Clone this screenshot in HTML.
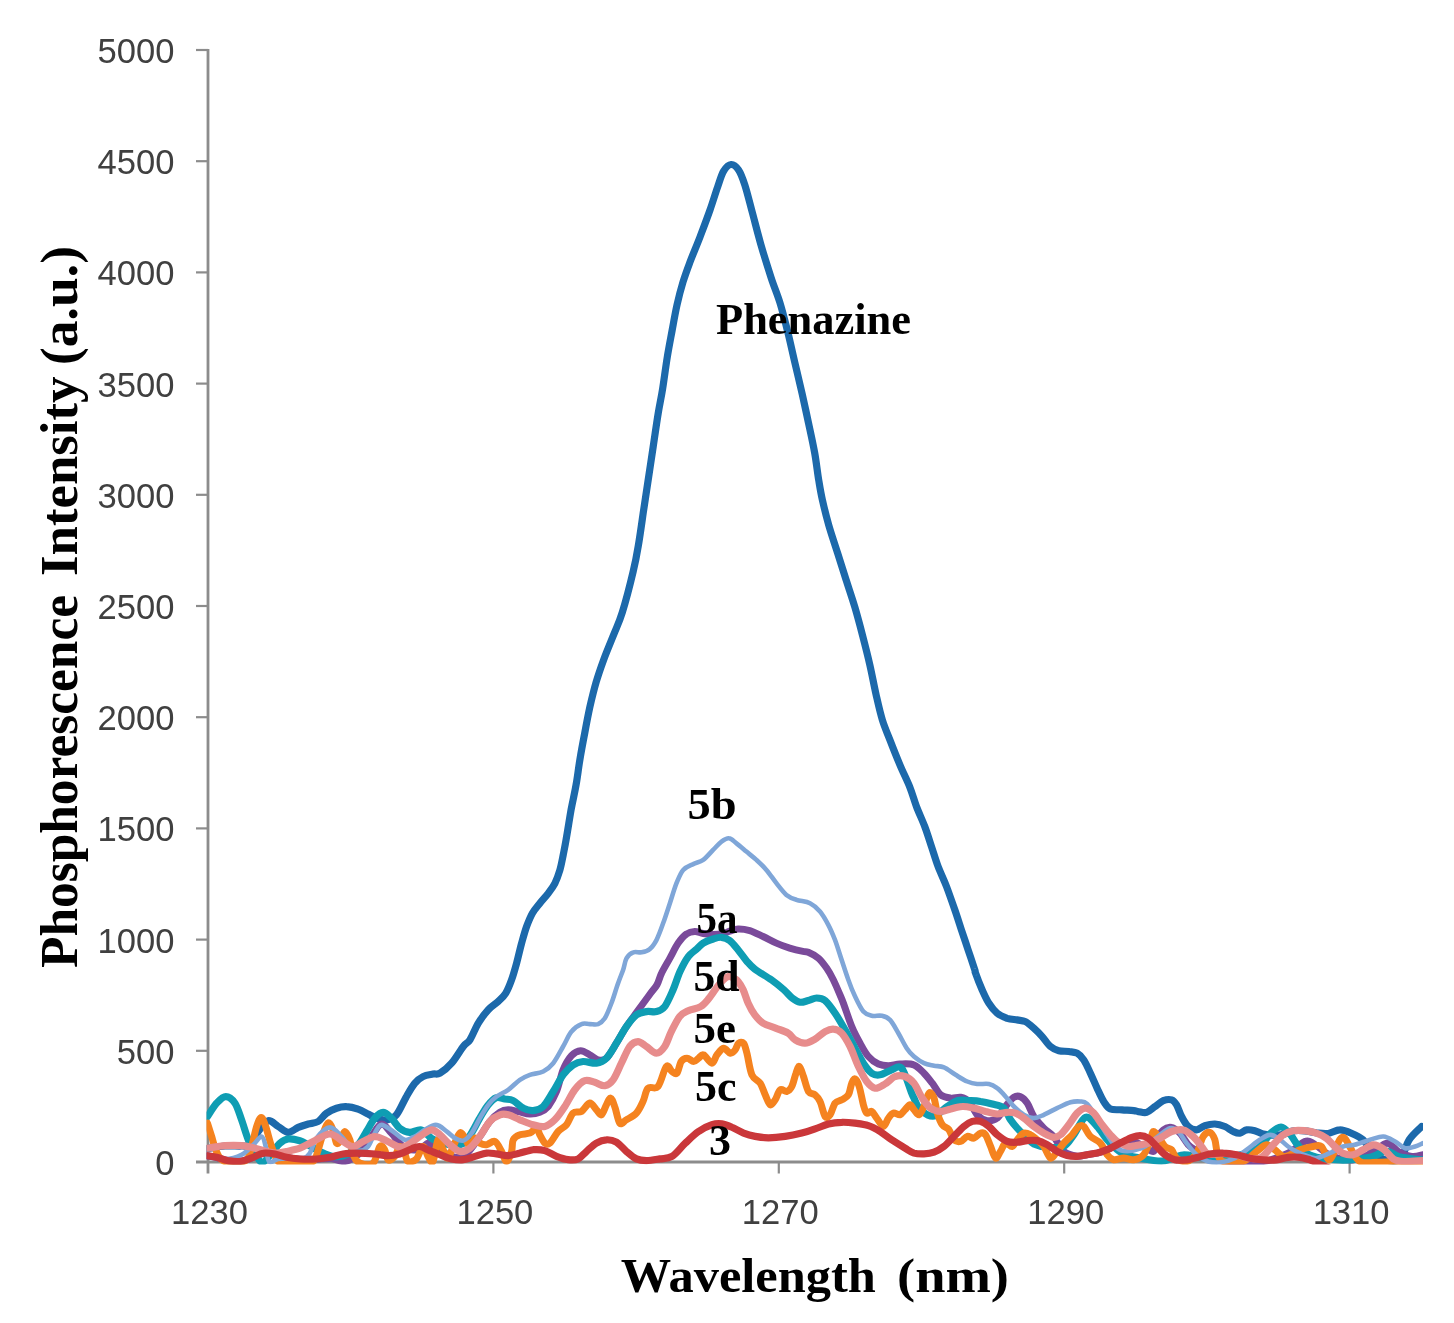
<!DOCTYPE html>
<html lang="en"><head><meta charset="utf-8"><title>Phosphorescence spectra</title>
<style>html,body{margin:0;padding:0;background:#fff}body{width:1454px;height:1323px;overflow:hidden}svg{display:block;filter:blur(0.6px)}.tk{font-family:"Liberation Sans",Arial,sans-serif;font-size:34.6px;fill:#404040}.bs{font-family:"Liberation Serif","Times New Roman",serif;font-weight:bold;fill:#000}</style></head><body>
<svg width="1454" height="1323" viewBox="0 0 1454 1323">
<rect width="1454" height="1323" fill="#fff"/>
<defs><clipPath id="pa"><rect x="206.5" y="0" width="1216.5" height="1164.5"/></clipPath></defs>
<g stroke="#8c8c8c" stroke-width="2.8" fill="none">
<line x1="208.0" y1="49.0" x2="208.0" y2="1173.5"/>
<line x1="196.0" y1="1162.0" x2="1423.0" y2="1162.0"/>
<line stroke-width="2.2" x1="196.0" y1="1050.8" x2="208.0" y2="1050.8"/>
<line stroke-width="2.2" x1="196.0" y1="939.6" x2="208.0" y2="939.6"/>
<line stroke-width="2.2" x1="196.0" y1="828.4" x2="208.0" y2="828.4"/>
<line stroke-width="2.2" x1="196.0" y1="717.2" x2="208.0" y2="717.2"/>
<line stroke-width="2.2" x1="196.0" y1="606.0" x2="208.0" y2="606.0"/>
<line stroke-width="2.2" x1="196.0" y1="494.8" x2="208.0" y2="494.8"/>
<line stroke-width="2.2" x1="196.0" y1="383.6" x2="208.0" y2="383.6"/>
<line stroke-width="2.2" x1="196.0" y1="272.4" x2="208.0" y2="272.4"/>
<line stroke-width="2.2" x1="196.0" y1="161.2" x2="208.0" y2="161.2"/>
<line stroke-width="2.2" x1="196.0" y1="50.0" x2="208.0" y2="50.0"/>
<line stroke-width="2.2" x1="493.4" y1="1162.0" x2="493.4" y2="1173.5"/>
<line stroke-width="2.2" x1="778.8" y1="1162.0" x2="778.8" y2="1173.5"/>
<line stroke-width="2.2" x1="1064.2" y1="1162.0" x2="1064.2" y2="1173.5"/>
<line stroke-width="2.2" x1="1349.6" y1="1162.0" x2="1349.6" y2="1173.5"/>
</g>
<g class="tk">
<text x="174.5" y="1175.0" text-anchor="end">0</text>
<text x="174.5" y="1063.8" text-anchor="end">500</text>
<text x="174.5" y="952.6" text-anchor="end">1000</text>
<text x="174.5" y="841.4" text-anchor="end">1500</text>
<text x="174.5" y="730.2" text-anchor="end">2000</text>
<text x="174.5" y="619.0" text-anchor="end">2500</text>
<text x="174.5" y="507.8" text-anchor="end">3000</text>
<text x="174.5" y="396.6" text-anchor="end">3500</text>
<text x="174.5" y="285.4" text-anchor="end">4000</text>
<text x="174.5" y="174.2" text-anchor="end">4500</text>
<text x="174.5" y="63.0" text-anchor="end">5000</text>
<text x="209.5" y="1223.5" text-anchor="middle">1230</text>
<text x="494.9" y="1223.5" text-anchor="middle">1250</text>
<text x="780.3" y="1223.5" text-anchor="middle">1270</text>
<text x="1065.7" y="1223.5" text-anchor="middle">1290</text>
<text x="1351.1" y="1223.5" text-anchor="middle">1310</text>
</g>
<g clip-path="url(#pa)" fill="none" stroke-linecap="round" stroke-linejoin="round">
<path stroke="#1c69ab" stroke-width="7.2" d="M207.5,1148.5C210.4,1148.1 219.3,1146.4 225.0,1146.0C230.7,1145.6 237.2,1146.2 241.6,1146.0C246.0,1145.8 248.8,1147.3 251.6,1144.8C254.4,1142.4 255.5,1135.5 258.3,1131.5C261.0,1127.5 264.9,1121.5 268.2,1120.7C271.6,1119.9 274.9,1124.6 278.2,1126.5C281.6,1128.5 284.9,1132.2 288.2,1132.4C291.5,1132.5 294.9,1128.8 298.2,1127.4C301.5,1126.0 304.9,1125.0 308.2,1124.0C311.5,1123.1 315.1,1123.3 318.2,1121.5C321.2,1119.7 323.4,1115.4 326.5,1113.2C329.5,1111.0 333.1,1109.3 336.5,1108.2C339.8,1107.1 342.9,1106.4 346.5,1106.6C350.1,1106.7 354.5,1107.8 358.1,1109.1C361.7,1110.3 365.1,1112.5 368.1,1114.1C371.2,1115.6 373.4,1117.2 376.4,1118.2C379.5,1119.2 383.1,1120.4 386.4,1119.9C389.7,1119.3 393.1,1118.8 396.4,1114.9C399.7,1111.0 403.3,1101.8 406.4,1096.6C409.4,1091.3 411.9,1086.6 414.7,1083.3C417.5,1079.9 420.0,1078.1 423.0,1076.6C426.1,1075.1 430.2,1074.7 433.0,1074.1C435.8,1073.5 436.9,1075.0 440.0,1073.2C443.1,1071.4 447.8,1067.6 451.6,1063.2C455.5,1058.8 460.2,1050.5 463.3,1046.5C466.3,1042.6 467.5,1043.6 470.0,1039.7C472.5,1035.8 475.3,1028.1 478.3,1023.1C481.4,1018.1 485.0,1013.4 488.3,1009.8C491.6,1006.2 495.4,1004.2 498.3,1001.4C501.2,998.7 503.6,996.7 505.8,993.1C508.0,989.5 509.8,984.8 511.6,979.8C513.4,974.8 514.9,969.3 516.6,963.2C518.3,957.1 519.9,949.3 521.6,943.2C523.3,937.1 524.8,931.5 526.6,926.5C528.4,921.6 530.2,917.1 532.4,913.2C534.6,909.3 537.3,906.6 539.9,903.2C542.5,899.9 545.7,896.6 548.2,893.3C550.7,889.9 552.9,887.2 554.9,883.3C556.8,879.4 558.5,874.7 559.9,870.0C561.3,865.2 562.2,860.0 563.2,855.0C564.2,849.9 564.8,847.2 566.1,839.6C567.5,832.1 569.5,818.8 571.1,809.7C572.8,800.5 574.7,793.0 576.1,784.7C577.6,776.4 578.4,768.5 579.9,759.7C581.3,751.0 583.2,741.0 584.9,732.3C586.5,723.5 588.0,715.6 589.8,707.3C591.7,699.0 593.8,690.2 596.1,682.3C598.4,674.4 600.7,667.8 603.6,659.9C606.5,652.0 610.4,642.8 613.6,634.9C616.7,627.0 619.0,623.0 622.3,612.4C625.6,601.8 630.6,582.4 633.2,571.4C635.9,560.4 636.6,556.1 638.2,546.4C639.9,536.7 641.6,524.2 643.2,513.1C644.9,502.1 646.5,491.0 648.2,479.9C649.9,468.8 651.5,457.7 653.2,446.6C654.9,435.5 656.6,422.9 658.2,413.3C659.8,403.7 661.1,398.4 662.6,389.0C664.1,379.6 665.7,366.8 667.3,357.0C668.9,347.2 670.6,338.7 672.2,330.0C673.8,321.3 675.2,313.0 677.0,305.0C678.8,297.0 680.8,289.2 683.0,282.0C685.2,274.8 687.2,269.5 690.0,262.0C692.8,254.5 696.7,245.7 700.0,237.0C703.3,228.3 707.1,218.3 710.0,210.0C712.9,201.7 715.2,193.9 717.5,187.4C719.8,180.9 721.3,175.0 723.6,171.2C725.9,167.4 728.6,164.7 731.1,164.5C733.6,164.3 736.3,166.6 738.6,170.0C740.9,173.4 742.5,177.8 744.8,184.9C747.1,192.0 749.6,202.4 752.3,212.4C755.0,222.4 757.9,234.1 761.0,244.9C764.1,255.7 767.9,267.7 771.0,277.3C774.1,286.9 777.1,293.6 779.8,302.3C782.5,311.0 784.7,319.8 787.2,329.7C789.7,339.6 792.2,351.3 794.7,362.0C797.2,372.7 799.9,383.8 802.2,394.0C804.5,404.2 806.4,413.2 808.5,423.0C810.6,432.8 813.0,443.5 814.7,453.0C816.4,462.5 817.4,472.2 818.7,480.0C820.0,487.8 820.7,492.5 822.4,500.0C824.1,507.5 826.2,516.2 828.7,524.9C831.2,533.7 834.5,543.2 837.4,552.4C840.3,561.6 843.2,570.7 846.1,579.9C849.0,589.0 852.2,598.2 854.9,607.3C857.6,616.5 859.9,625.2 862.4,634.8C864.9,644.4 867.6,654.8 869.8,664.7C872.1,674.7 874.0,685.6 876.1,694.7C878.2,703.9 880.0,712.2 882.3,719.7C884.6,727.2 886.9,732.2 889.8,739.6C892.7,747.1 896.5,756.7 899.8,764.6C903.1,772.5 907.0,780.1 909.8,787.1C912.6,794.1 914.0,800.1 916.5,806.6C919.0,813.2 922.3,820.0 924.8,826.6C927.3,833.3 929.3,839.9 931.5,846.6C933.7,853.2 935.6,859.9 938.1,866.6C940.6,873.2 943.7,879.3 946.5,886.5C949.2,893.7 952.3,902.6 954.8,909.8C957.3,917.0 959.2,923.1 961.4,929.8C963.7,936.5 965.9,943.1 968.1,949.8C970.3,956.4 973.5,965.8 974.8,969.8C976.0,973.7 974.3,969.9 975.6,973.3C976.8,976.7 980.0,985.0 982.2,990.0C984.5,995.0 986.4,999.4 988.9,1003.3C991.4,1007.2 994.2,1010.8 997.2,1013.3C1000.3,1015.8 1003.9,1017.1 1007.2,1018.3C1010.5,1019.4 1014.1,1019.4 1017.2,1019.9C1020.2,1020.5 1022.7,1020.2 1025.5,1021.6C1028.3,1023.0 1031.1,1025.7 1033.8,1028.2C1036.6,1030.7 1039.4,1033.5 1042.2,1036.6C1044.9,1039.6 1047.7,1044.2 1050.5,1046.5C1053.3,1048.9 1055.7,1049.9 1058.8,1050.7C1061.9,1051.5 1065.7,1051.1 1068.8,1051.5C1071.8,1052.0 1074.6,1051.8 1077.1,1053.2C1079.6,1054.6 1081.5,1056.5 1083.8,1059.9C1086.0,1063.2 1088.2,1068.5 1090.4,1073.2C1092.6,1077.9 1094.9,1083.4 1097.1,1088.2C1099.3,1092.9 1101.5,1098.0 1103.7,1101.5C1106.0,1104.9 1107.3,1107.6 1110.4,1109.0C1113.4,1110.3 1118.2,1109.5 1122.0,1109.8C1125.9,1110.1 1131.0,1110.3 1133.7,1110.6C1136.4,1110.9 1136.2,1111.3 1138.3,1111.6C1140.5,1111.8 1143.9,1113.2 1146.6,1112.4C1149.4,1111.6 1152.2,1108.5 1155.0,1106.6C1157.7,1104.6 1160.5,1101.8 1163.3,1100.7C1166.1,1099.6 1169.4,1099.2 1171.6,1099.9C1173.8,1100.6 1174.9,1102.1 1176.6,1104.9C1178.3,1107.7 1179.7,1112.9 1181.6,1116.5C1183.5,1120.2 1185.8,1124.3 1188.3,1126.5C1190.7,1128.8 1193.8,1130.0 1196.6,1129.9C1199.3,1129.7 1201.8,1126.7 1204.9,1125.7C1207.9,1124.7 1211.6,1123.9 1214.9,1124.0C1218.2,1124.2 1221.8,1125.3 1224.9,1126.5C1227.9,1127.8 1230.7,1130.4 1233.2,1131.5C1235.7,1132.6 1237.6,1133.5 1239.8,1133.2C1242.1,1132.9 1244.0,1130.3 1246.5,1129.9C1249.0,1129.4 1252.1,1130.0 1254.8,1130.7C1257.6,1131.4 1260.1,1133.3 1263.1,1134.0C1266.2,1134.8 1269.7,1135.2 1273.1,1135.2C1276.6,1135.2 1280.6,1134.9 1284.0,1134.2C1287.3,1133.5 1289.6,1131.4 1293.1,1130.9C1296.6,1130.3 1300.9,1130.5 1304.8,1130.9C1308.6,1131.2 1312.5,1132.4 1316.4,1132.9C1320.3,1133.3 1324.2,1134.0 1328.1,1133.5C1331.9,1133.0 1335.8,1129.9 1339.7,1129.9C1343.6,1129.8 1347.5,1131.5 1351.4,1133.2C1355.2,1134.9 1359.6,1136.8 1363.0,1139.8C1366.4,1142.9 1368.1,1148.2 1371.8,1151.5C1375.5,1154.8 1380.4,1158.6 1385.1,1159.8C1389.8,1161.1 1396.1,1162.3 1400.1,1159.0C1404.1,1155.7 1405.6,1145.3 1409.2,1139.8C1412.8,1134.4 1419.6,1128.8 1421.7,1126.5"/>
<path stroke="#7a4a9a" stroke-width="7.0" d="M207.5,1156.0C209.0,1156.2 213.2,1156.7 216.6,1157.5C220.1,1158.3 224.4,1160.2 228.3,1160.8C232.2,1161.5 235.8,1162.0 239.9,1161.5C244.1,1160.9 249.4,1158.8 253.3,1157.5C257.1,1156.2 259.6,1154.0 263.2,1153.5C266.9,1153.0 271.0,1153.7 274.9,1154.3C278.8,1155.0 282.4,1156.7 286.5,1157.5C290.7,1158.3 294.9,1158.9 299.9,1159.2C304.9,1159.4 311.2,1159.3 316.5,1159.2C321.8,1159.0 326.8,1158.1 331.5,1158.5C336.2,1158.9 340.1,1162.4 344.8,1161.5C349.5,1160.6 355.3,1157.3 359.8,1153.2C364.2,1149.0 367.8,1141.4 371.4,1136.5C375.0,1131.7 378.1,1124.6 381.4,1124.0C384.7,1123.5 387.8,1129.4 391.4,1133.2C395.0,1136.9 398.9,1143.7 403.1,1146.5C407.2,1149.3 412.2,1150.4 416.4,1149.8C420.5,1149.3 425.7,1144.3 428.0,1143.2C430.3,1142.1 428.0,1142.0 430.0,1143.1C432.0,1144.2 436.4,1147.5 440.0,1149.7C443.6,1152.0 447.8,1155.3 451.6,1156.4C455.5,1157.5 460.0,1157.8 463.3,1156.4C466.6,1155.0 468.8,1151.4 471.6,1148.1C474.4,1144.7 476.9,1140.9 479.9,1136.4C483.0,1132.0 486.6,1125.5 489.9,1121.4C493.2,1117.4 496.9,1114.2 499.9,1112.3C503.0,1110.3 505.2,1109.9 508.2,1109.8C511.3,1109.7 514.6,1110.8 518.2,1111.5C521.8,1112.2 526.3,1113.8 529.9,1114.0C533.5,1114.1 536.8,1113.5 539.8,1112.3C542.9,1111.0 545.4,1109.9 548.2,1106.5C550.9,1103.0 554.0,1097.6 556.5,1091.5C559.0,1085.4 560.7,1075.8 563.1,1069.8C565.6,1063.9 568.6,1058.9 571.5,1055.7C574.4,1052.5 577.6,1050.8 580.6,1050.7C583.7,1050.6 586.9,1053.3 589.8,1054.9C592.7,1056.4 595.3,1059.3 598.1,1059.9C600.9,1060.4 603.4,1061.0 606.4,1058.2C609.5,1055.4 613.1,1048.5 616.4,1043.2C619.7,1037.9 622.9,1031.8 626.4,1026.6C629.9,1021.3 633.4,1016.9 637.2,1011.6C641.1,1006.3 646.2,999.2 649.5,994.7C652.8,990.2 655.0,988.3 657.0,984.7C659.0,981.1 659.4,977.5 661.6,973.1C663.7,968.6 667.1,963.1 669.9,958.1C672.7,953.1 675.4,947.1 678.2,943.1C681.0,939.1 683.7,935.9 686.5,934.0C689.3,932.0 692.1,931.6 694.8,931.5C697.6,931.4 700.1,933.0 703.2,933.5C706.2,934.0 709.8,934.5 713.1,934.5C716.5,934.5 720.4,934.0 723.1,933.5C725.9,932.9 727.3,931.9 729.8,931.1C732.3,930.4 734.8,929.1 738.1,929.0C741.4,928.9 745.6,929.4 749.8,930.6C753.9,931.9 758.6,934.4 763.1,936.5C767.5,938.5 772.0,941.2 776.4,943.1C780.8,945.1 785.3,946.7 789.7,948.1C794.1,949.5 799.9,950.8 803.0,951.4C806.1,952.1 805.8,951.2 808.3,952.3C810.9,953.4 815.3,955.5 818.3,958.1C821.4,960.7 824.1,964.5 826.6,968.1C829.1,971.7 831.1,975.3 833.3,979.7C835.5,984.2 838.3,990.8 839.9,994.7C841.6,998.6 841.5,998.0 843.4,1003.3C845.4,1008.6 849.0,1019.9 851.8,1026.6C854.5,1033.2 857.3,1038.2 860.1,1043.2C862.8,1048.2 865.3,1053.1 868.4,1056.5C871.4,1060.0 875.1,1062.5 878.4,1064.0C881.7,1065.5 884.8,1065.7 888.4,1065.7C892.0,1065.7 895.7,1064.2 900.0,1064.0C904.3,1063.9 910.0,1063.3 914.0,1064.9C918.0,1066.4 920.9,1070.1 924.0,1073.2C927.0,1076.2 929.5,1079.6 932.3,1083.2C935.1,1086.8 937.6,1092.3 940.6,1094.8C943.7,1097.3 947.3,1097.7 950.6,1098.1C953.9,1098.6 957.6,1096.8 960.6,1097.3C963.7,1097.9 966.2,1098.6 968.9,1101.5C971.7,1104.4 974.2,1111.6 977.2,1114.8C980.3,1118.0 983.9,1120.1 987.2,1120.6C990.6,1121.2 994.2,1120.5 997.2,1118.1C1000.3,1115.8 1002.8,1109.9 1005.5,1106.5C1008.3,1103.0 1011.4,1098.9 1013.9,1097.3C1016.4,1095.7 1018.3,1095.8 1020.5,1096.8C1022.7,1097.8 1025.0,1099.9 1027.2,1103.1C1029.4,1106.4 1031.1,1112.3 1033.8,1116.5C1036.6,1120.6 1040.5,1124.7 1043.8,1128.1C1047.1,1131.5 1050.5,1132.9 1053.8,1136.8C1057.1,1140.6 1059.9,1148.2 1063.8,1151.4C1067.7,1154.6 1073.2,1155.5 1077.1,1156.1C1081.0,1156.6 1083.8,1155.2 1087.1,1154.7C1090.4,1154.2 1093.8,1153.9 1097.1,1153.1C1100.4,1152.2 1103.7,1151.1 1107.1,1149.7C1110.4,1148.4 1113.2,1146.6 1117.1,1145.1C1120.9,1143.6 1125.9,1140.4 1130.4,1140.6C1134.8,1140.8 1139.8,1144.6 1143.7,1146.4C1147.6,1148.2 1151.5,1152.5 1153.7,1151.4C1155.8,1150.3 1155.0,1143.4 1156.6,1139.8C1158.2,1136.3 1160.8,1131.9 1163.3,1129.9C1165.8,1127.8 1168.8,1126.8 1171.6,1127.4C1174.4,1127.9 1177.2,1130.3 1179.9,1133.2C1182.7,1136.1 1185.8,1142.1 1188.3,1144.8C1190.7,1147.6 1192.1,1147.6 1194.9,1149.8C1197.7,1152.1 1199.1,1156.2 1204.9,1158.2C1210.7,1160.1 1220.2,1160.9 1229.9,1161.5C1239.6,1162.0 1253.4,1162.9 1263.1,1161.5C1272.9,1160.1 1281.2,1156.5 1288.1,1153.2C1295.1,1149.8 1300.6,1143.2 1304.8,1141.5C1308.9,1139.8 1309.5,1141.2 1313.1,1143.2C1316.7,1145.1 1322.2,1150.7 1326.4,1153.2C1330.6,1155.7 1333.5,1157.0 1338.0,1158.2C1342.6,1159.3 1347.8,1160.7 1353.5,1159.8C1359.1,1159.0 1366.2,1155.9 1371.8,1153.2C1377.3,1150.4 1382.3,1143.5 1386.8,1143.2C1391.2,1142.9 1394.2,1149.3 1398.4,1151.5C1402.6,1153.7 1407.6,1155.9 1411.7,1156.5C1415.8,1157.0 1421.2,1155.1 1423.0,1154.8"/>
<path stroke="#0e9db3" stroke-width="7.2" d="M207.5,1116.5C209.0,1114.3 213.6,1106.6 216.6,1103.2C219.7,1099.9 222.7,1096.6 225.8,1096.6C228.8,1096.6 232.3,1099.3 235.0,1103.2C237.6,1107.1 239.4,1113.8 241.6,1119.9C243.8,1126.0 246.0,1134.3 248.3,1139.8C250.5,1145.4 252.6,1149.4 254.9,1153.2C257.3,1156.9 259.6,1162.3 262.4,1162.3C265.2,1162.3 268.7,1156.4 271.6,1153.2C274.5,1150.0 277.1,1145.5 279.9,1143.2C282.7,1140.8 284.9,1139.4 288.2,1139.0C291.5,1138.6 296.5,1139.7 299.9,1140.7C303.2,1141.7 304.9,1143.0 308.2,1144.8C311.5,1146.6 315.7,1149.6 319.8,1151.5C324.0,1153.4 328.7,1155.9 333.1,1156.5C337.6,1157.0 342.3,1156.8 346.5,1154.8C350.6,1152.9 354.8,1148.7 358.1,1144.8C361.4,1141.0 363.7,1136.0 366.4,1131.5C369.2,1127.1 372.0,1121.4 374.8,1118.2C377.5,1115.0 380.3,1112.4 383.1,1112.4C385.9,1112.4 388.6,1115.6 391.4,1118.2C394.2,1120.8 396.7,1125.8 399.7,1128.2C402.8,1130.6 406.1,1132.1 409.7,1132.4C413.3,1132.6 417.8,1128.9 421.4,1129.9C425.0,1130.8 428.5,1136.3 431.3,1138.2C434.2,1140.1 435.2,1140.3 438.3,1141.4C441.4,1142.5 446.0,1144.3 450.0,1144.7C454.0,1145.2 459.0,1145.7 462.5,1143.9C466.0,1142.1 468.1,1138.1 470.9,1133.9C473.7,1129.8 476.5,1123.7 479.3,1118.9C482.0,1114.2 484.8,1109.2 487.6,1105.6C490.4,1102.1 493.0,1098.9 495.9,1097.8C498.8,1096.7 502.0,1098.5 504.9,1099.0C507.8,1099.4 510.2,1099.1 513.2,1100.6C516.3,1102.2 519.9,1106.5 523.2,1108.1C526.5,1109.8 529.9,1110.9 533.2,1110.6C536.5,1110.3 539.8,1109.7 543.2,1106.5C546.5,1103.3 549.8,1096.8 553.2,1091.5C556.5,1086.2 559.8,1079.3 563.1,1074.8C566.5,1070.4 569.8,1067.1 573.1,1064.9C576.5,1062.6 579.2,1061.8 583.1,1061.5C587.0,1061.2 592.6,1063.7 596.4,1063.2C600.3,1062.6 603.1,1061.5 606.4,1058.2C609.8,1054.9 613.1,1048.5 616.4,1043.2C619.7,1037.9 623.1,1031.3 626.4,1026.6C629.7,1021.9 633.1,1017.4 636.4,1014.9C639.7,1012.4 643.0,1012.2 646.4,1011.6C649.7,1011.0 653.3,1012.4 656.4,1011.6C659.4,1010.8 661.9,1010.2 664.7,1006.6C667.5,1003.0 670.5,995.6 673.1,989.8C675.6,984.0 677.5,977.1 680.0,971.6C682.5,966.1 685.5,960.4 688.3,956.6C691.1,952.9 694.1,951.4 696.6,949.1C699.1,946.9 700.4,944.8 703.2,943.1C706.0,941.4 710.2,940.0 713.2,939.0C716.2,938.0 718.7,937.0 721.5,937.3C724.3,937.6 727.0,938.5 729.8,940.6C732.6,942.7 735.4,946.6 738.2,950.0C741.0,953.4 743.7,957.6 746.5,960.8C749.3,964.0 750.6,965.9 754.8,969.1C759.0,972.3 766.6,976.4 771.5,979.9C776.4,983.4 780.5,986.8 784.0,989.9C787.5,993.0 789.6,996.1 792.3,998.2C795.0,1000.3 797.3,1001.8 800.0,1002.2C802.7,1002.6 805.5,1001.2 808.3,1000.5C811.1,999.8 813.9,998.0 816.6,998.0C819.4,998.0 821.9,998.0 825.0,1000.5C828.0,1003.1 831.8,1008.4 835.1,1013.3C838.5,1018.2 841.8,1024.1 845.1,1029.9C848.4,1035.7 852.0,1042.7 855.1,1048.2C858.1,1053.8 860.6,1059.0 863.4,1063.2C866.2,1067.4 869.0,1071.2 871.7,1073.2C874.5,1075.1 876.7,1075.4 880.0,1074.8C883.4,1074.3 888.1,1071.0 891.7,1069.8C895.3,1068.7 898.4,1064.3 901.7,1068.2C905.0,1072.1 909.6,1088.2 911.7,1093.1C913.7,1098.1 912.8,1095.6 914.0,1098.1C915.2,1100.6 916.8,1105.4 919.0,1108.1C921.2,1110.9 924.5,1113.5 927.3,1114.8C930.1,1116.0 932.3,1117.0 935.6,1115.6C939.0,1114.2 943.7,1109.0 947.3,1106.5C950.9,1104.0 953.7,1101.6 957.3,1100.6C960.9,1099.7 965.0,1100.5 968.9,1100.6C972.8,1100.8 976.7,1100.9 980.6,1101.5C984.5,1102.0 988.3,1102.9 992.2,1104.0C996.1,1105.1 1000.8,1105.5 1003.9,1108.1C1006.9,1110.8 1008.3,1116.5 1010.5,1119.8C1012.8,1123.1 1014.4,1125.1 1017.2,1128.1C1020.0,1131.2 1024.4,1135.5 1027.2,1138.1C1030.0,1140.7 1030.5,1142.4 1033.8,1143.9C1037.2,1145.4 1042.2,1146.8 1047.1,1147.2C1052.1,1147.7 1059.4,1148.5 1063.8,1146.4C1068.2,1144.3 1070.2,1139.6 1073.8,1134.8C1077.4,1129.9 1081.5,1118.7 1085.4,1117.3C1089.3,1115.9 1093.2,1122.4 1097.1,1126.4C1101.0,1130.5 1104.6,1137.0 1108.7,1141.4C1112.9,1145.9 1116.8,1150.3 1122.0,1153.1C1127.3,1155.8 1133.2,1156.7 1140.0,1158.0C1146.8,1159.3 1155.8,1161.5 1163.0,1161.0C1170.2,1160.5 1176.0,1155.5 1183.0,1155.0C1190.0,1154.5 1196.3,1157.8 1205.0,1158.0C1213.7,1158.2 1226.2,1157.7 1235.0,1156.0C1243.8,1154.3 1252.0,1151.8 1258.0,1148.0C1264.0,1144.2 1267.2,1136.5 1271.0,1133.0C1274.8,1129.5 1277.8,1126.8 1281.0,1127.0C1284.2,1127.2 1287.3,1131.2 1290.0,1134.0C1292.7,1136.8 1293.7,1140.5 1297.0,1144.0C1300.3,1147.5 1302.8,1152.3 1310.0,1155.0C1317.2,1157.7 1329.8,1159.7 1340.0,1160.0C1350.2,1160.3 1363.3,1158.5 1371.0,1157.0C1378.7,1155.5 1381.2,1151.0 1386.0,1151.0C1390.8,1151.0 1393.8,1155.5 1400.0,1157.0C1406.2,1158.5 1419.2,1159.5 1423.0,1160.0"/>
<path stroke="#f5831f" stroke-width="7.0" d="M207.5,1123.2C208.2,1125.4 210.3,1132.1 211.7,1136.5C213.0,1141.0 214.1,1146.0 215.8,1149.8C217.5,1153.7 218.7,1157.6 221.6,1159.8C224.5,1162.0 229.1,1163.1 233.3,1163.1C237.4,1163.1 243.6,1162.6 246.6,1159.8C249.7,1157.0 249.9,1152.1 251.6,1146.5C253.3,1141.0 255.0,1131.4 256.6,1126.5C258.2,1121.7 259.7,1117.4 261.2,1117.4C262.8,1117.4 264.0,1121.7 265.7,1126.5C267.5,1131.4 269.5,1140.7 271.6,1146.5C273.6,1152.3 275.7,1158.7 278.2,1161.5C280.7,1164.3 282.9,1162.9 286.5,1163.1C290.2,1163.4 295.4,1163.4 299.9,1163.1C304.3,1162.9 310.1,1163.7 313.2,1161.5C316.2,1159.3 316.5,1154.6 318.2,1149.8C319.8,1145.1 321.5,1137.7 323.2,1133.2C324.8,1128.7 326.5,1123.4 328.2,1122.9C329.8,1122.3 331.8,1126.5 333.1,1129.9C334.5,1133.2 335.2,1141.5 336.5,1143.2C337.7,1144.8 339.3,1141.8 340.6,1139.8C342.0,1137.9 343.3,1131.5 344.8,1131.5C346.3,1131.5 348.3,1135.7 349.8,1139.8C351.3,1144.0 352.3,1152.6 354.0,1156.5C355.6,1160.4 356.6,1162.0 359.8,1163.1C363.0,1164.3 369.8,1165.9 373.1,1163.1C376.4,1160.4 377.8,1148.7 379.8,1146.5C381.7,1144.3 383.4,1147.6 384.7,1149.8C386.1,1152.1 386.4,1158.7 388.1,1159.8C389.7,1160.9 392.8,1158.7 394.7,1156.5C396.7,1154.3 398.1,1147.1 399.7,1146.5C401.4,1146.0 403.3,1150.7 404.7,1153.2C406.1,1155.7 406.1,1160.5 408.0,1161.5C410.0,1162.5 413.9,1161.5 416.4,1159.0C418.9,1156.5 421.1,1146.9 423.0,1146.5C425.0,1146.1 426.4,1154.0 428.0,1156.5C429.7,1159.0 431.3,1164.3 433.0,1161.5C434.7,1158.7 436.4,1142.1 438.0,1139.8C439.6,1137.6 440.9,1145.0 442.5,1148.1C444.1,1151.1 445.7,1158.3 447.5,1158.1C449.3,1157.8 451.2,1150.6 453.3,1146.4C455.4,1142.2 457.9,1133.9 460.0,1132.8C462.0,1131.7 464.1,1137.5 465.8,1139.8C467.4,1142.0 468.4,1146.7 469.9,1146.4C471.5,1146.1 473.3,1138.6 474.9,1138.1C476.6,1137.5 478.0,1142.0 479.9,1143.1C481.9,1144.2 484.1,1145.0 486.6,1144.7C489.1,1144.5 492.4,1140.3 494.9,1141.4C497.4,1142.5 499.6,1148.1 501.6,1151.4C503.5,1154.7 504.9,1161.4 506.6,1161.4C508.2,1161.4 510.4,1155.0 511.6,1151.4C512.7,1147.8 511.8,1142.5 513.2,1139.8C514.6,1137.0 517.1,1135.9 519.9,1134.8C522.7,1133.6 527.1,1134.2 529.9,1133.1C532.6,1132.0 534.9,1127.8 536.5,1128.1C538.2,1128.4 538.5,1132.3 539.8,1134.8C541.2,1137.3 543.2,1141.7 544.8,1143.1C546.5,1144.5 547.6,1145.0 549.8,1143.1C552.1,1141.1 555.4,1134.5 558.2,1131.4C560.9,1128.4 564.0,1127.8 566.5,1124.8C569.0,1121.7 570.6,1115.3 573.1,1113.1C575.6,1110.9 578.7,1113.1 581.5,1111.5C584.2,1109.8 587.3,1103.4 589.8,1103.1C592.3,1102.9 594.5,1107.9 596.4,1109.8C598.4,1111.7 599.8,1115.6 601.4,1114.8C603.1,1114.0 604.9,1107.6 606.4,1104.8C607.9,1102.0 609.2,1097.9 610.6,1098.1C612.0,1098.4 613.2,1102.3 614.7,1106.5C616.3,1110.6 617.8,1120.9 619.7,1123.1C621.7,1125.3 623.6,1121.4 626.4,1119.8C629.2,1118.1 633.6,1116.2 636.4,1113.1C639.2,1110.1 641.1,1105.6 643.0,1101.5C645.0,1097.3 645.5,1090.7 648.0,1088.2C650.5,1085.7 655.0,1090.1 658.0,1086.5C661.1,1082.9 664.0,1069.0 666.3,1066.5C668.7,1064.0 670.2,1070.4 672.0,1071.5C673.8,1072.6 675.5,1074.8 677.0,1073.2C678.5,1071.5 679.5,1064.0 681.2,1061.5C682.8,1059.0 684.9,1058.2 687.0,1058.2C689.1,1058.2 691.7,1061.5 693.6,1061.5C695.6,1061.5 697.0,1059.3 698.6,1058.2C700.3,1057.1 701.4,1054.0 703.6,1054.9C705.8,1055.7 709.7,1063.2 711.9,1063.2C714.2,1063.2 715.0,1057.4 716.9,1054.9C718.9,1052.4 721.4,1048.5 723.6,1048.2C725.8,1047.9 728.3,1052.9 730.3,1053.2C732.2,1053.5 733.9,1051.5 735.2,1049.9C736.6,1048.2 737.2,1044.3 738.6,1043.2C740.0,1042.1 742.2,1041.6 743.6,1043.2C745.0,1044.9 745.5,1047.9 746.9,1053.2C748.3,1058.5 749.7,1069.8 751.9,1074.8C754.1,1079.8 758.0,1079.8 760.2,1083.2C762.4,1086.5 763.5,1091.2 765.2,1094.8C766.9,1098.4 768.5,1104.0 770.2,1104.8C771.9,1105.6 773.5,1102.3 775.2,1099.8C776.9,1097.3 778.2,1091.2 780.2,1089.8C782.1,1088.4 784.9,1092.0 786.8,1091.5C788.8,1090.9 790.3,1089.5 791.8,1086.5C793.4,1083.4 794.7,1076.5 796.0,1073.2C797.2,1069.8 798.1,1066.0 799.3,1066.5C800.6,1067.1 802.0,1072.3 803.5,1076.5C805.0,1080.7 806.5,1088.4 808.5,1091.5C810.4,1094.5 813.2,1093.1 815.1,1094.8C817.1,1096.5 818.5,1097.9 820.1,1101.5C821.8,1105.1 823.5,1114.2 825.1,1116.5C826.8,1118.7 828.5,1117.0 830.1,1114.8C831.8,1112.6 833.2,1105.6 835.1,1103.1C837.1,1100.6 839.5,1101.2 841.8,1099.8C844.0,1098.4 846.8,1097.6 848.4,1094.8C850.1,1092.0 850.6,1085.8 851.8,1083.2C852.9,1080.5 853.8,1078.4 855.1,1079.0C856.3,1079.6 857.9,1082.2 859.2,1086.5C860.6,1090.8 862.2,1100.4 863.4,1104.8C864.7,1109.2 865.3,1112.0 866.7,1113.1C868.1,1114.2 870.1,1110.6 871.7,1111.5C873.4,1112.3 874.8,1115.6 876.7,1118.1C878.7,1120.6 881.4,1126.4 883.4,1126.4C885.3,1126.4 886.7,1120.3 888.4,1118.1C890.0,1115.9 891.4,1113.7 893.4,1113.1C895.3,1112.6 898.1,1115.3 900.0,1114.8C902.0,1114.2 903.3,1111.5 905.0,1109.8C906.7,1108.1 908.5,1104.8 910.0,1104.8C911.5,1104.8 912.5,1108.1 914.0,1109.8C915.5,1111.5 917.3,1115.3 919.0,1114.8C920.7,1114.2 922.3,1110.1 924.0,1106.5C925.7,1102.9 927.3,1094.5 929.0,1093.1C930.6,1091.8 932.6,1094.8 934.0,1098.1C935.4,1101.5 935.9,1108.7 937.3,1113.1C938.7,1117.6 940.4,1122.0 942.3,1124.8C944.2,1127.5 947.0,1127.3 949.0,1129.8C950.9,1132.3 952.0,1137.8 953.9,1139.8C955.9,1141.7 958.4,1142.0 960.6,1141.4C962.8,1140.9 965.0,1137.0 967.3,1136.4C969.5,1135.9 971.7,1138.6 973.9,1138.1C976.1,1137.5 978.6,1133.6 980.6,1133.1C982.5,1132.5 983.9,1132.5 985.6,1134.8C987.2,1137.0 988.9,1142.5 990.6,1146.4C992.2,1150.3 993.9,1157.2 995.6,1158.1C997.2,1158.9 998.9,1153.9 1000.5,1151.4C1002.2,1148.9 1003.6,1143.9 1005.5,1143.1C1007.5,1142.2 1010.3,1147.0 1012.2,1146.4C1014.1,1145.9 1015.2,1142.0 1017.2,1139.8C1019.1,1137.5 1021.6,1133.9 1023.8,1133.1C1026.1,1132.3 1028.3,1133.6 1030.5,1134.8C1032.7,1135.9 1034.9,1137.8 1037.2,1139.8C1039.4,1141.7 1041.6,1143.4 1043.8,1146.4C1046.0,1149.5 1048.3,1157.2 1050.5,1158.1C1052.7,1158.9 1054.9,1153.9 1057.1,1151.4C1059.4,1148.9 1061.3,1145.9 1063.8,1143.1C1066.3,1140.3 1069.6,1137.5 1072.1,1134.8C1074.6,1132.0 1076.8,1127.8 1078.8,1126.4C1080.7,1125.1 1081.8,1124.8 1083.8,1126.4C1085.7,1128.1 1087.6,1133.6 1090.4,1136.4C1093.2,1139.2 1097.6,1140.0 1100.4,1143.1C1103.2,1146.1 1104.8,1152.0 1107.1,1154.7C1109.3,1157.5 1111.0,1159.2 1113.7,1159.7C1116.5,1160.3 1120.4,1158.1 1123.7,1158.1C1127.0,1158.1 1130.4,1160.3 1133.7,1159.7C1137.0,1159.2 1140.9,1158.1 1143.7,1154.7C1146.5,1151.4 1148.7,1143.6 1150.3,1139.8C1151.9,1135.9 1152.0,1132.1 1153.3,1131.5C1154.6,1131.0 1156.4,1134.0 1158.3,1136.5C1160.2,1139.0 1162.7,1144.3 1165.0,1146.5C1167.2,1148.7 1169.7,1147.9 1171.6,1149.8C1173.6,1151.8 1174.1,1156.2 1176.6,1158.2C1179.1,1160.1 1183.3,1162.3 1186.6,1161.5C1189.9,1160.7 1193.8,1157.3 1196.6,1153.2C1199.3,1149.0 1201.0,1140.0 1203.2,1136.5C1205.5,1133.1 1207.9,1131.8 1209.9,1132.4C1211.8,1132.9 1213.6,1136.4 1214.9,1139.8C1216.1,1143.3 1216.0,1149.6 1217.4,1153.2C1218.8,1156.8 1218.9,1160.1 1223.2,1161.5C1227.5,1162.9 1237.6,1163.1 1243.2,1161.5C1248.7,1159.8 1252.6,1154.3 1256.5,1151.5C1260.4,1148.7 1263.4,1145.1 1266.5,1144.8C1269.5,1144.6 1271.7,1147.9 1274.8,1149.8C1277.9,1151.8 1280.6,1156.5 1284.8,1156.5C1288.9,1156.5 1295.1,1151.5 1299.8,1149.8C1304.5,1148.2 1309.5,1147.1 1313.1,1146.5C1316.7,1146.0 1318.6,1144.3 1321.4,1146.5C1324.2,1148.7 1326.7,1160.9 1329.7,1159.8C1332.8,1158.7 1337.2,1143.5 1339.7,1139.8C1342.2,1136.2 1343.0,1137.1 1344.7,1138.2C1346.4,1139.3 1347.2,1142.6 1349.7,1146.5C1352.2,1150.4 1354.9,1158.9 1359.7,1161.5C1364.5,1164.1 1372.5,1162.3 1378.4,1162.3C1384.3,1162.3 1387.6,1161.5 1395.1,1161.5C1402.5,1161.5 1418.4,1162.2 1423.0,1162.3"/>
<path stroke="#7fa6d8" stroke-width="4.6" d="M207.5,1154.8C210.4,1155.5 219.3,1159.0 225.0,1159.0C230.7,1159.0 236.9,1157.2 241.6,1154.8C246.3,1152.5 249.9,1147.9 253.3,1144.8C256.6,1141.8 259.5,1136.2 261.6,1136.5C263.7,1136.8 264.5,1142.3 265.7,1146.5C267.0,1150.7 267.0,1159.4 269.1,1161.5C271.2,1163.6 274.8,1159.5 278.2,1159.0C281.7,1158.5 285.7,1158.6 289.9,1158.5C294.0,1158.4 299.9,1159.4 303.2,1158.5C306.5,1157.6 307.6,1156.5 309.8,1153.2C312.1,1149.8 313.2,1142.5 316.5,1138.2C319.8,1133.9 325.7,1127.6 329.8,1127.4C334.0,1127.1 338.1,1133.3 341.5,1136.5C344.8,1139.7 346.7,1144.1 349.8,1146.5C352.8,1148.9 356.7,1150.7 359.8,1150.7C362.8,1150.7 365.6,1149.4 368.1,1146.5C370.6,1143.6 372.5,1136.8 374.8,1133.2C377.0,1129.6 378.4,1125.1 381.4,1124.9C384.5,1124.6 389.2,1129.0 393.1,1131.5C397.0,1134.0 401.1,1139.0 404.7,1139.8C408.3,1140.7 411.4,1138.2 414.7,1136.5C418.0,1134.9 421.1,1131.8 424.7,1129.9C428.3,1127.9 432.7,1124.6 436.3,1124.9C440.0,1125.1 443.5,1129.2 446.6,1131.4C449.7,1133.6 452.2,1136.6 455.0,1138.1C457.7,1139.6 460.5,1141.4 463.3,1140.6C466.1,1139.8 468.8,1136.8 471.6,1133.1C474.4,1129.4 477.2,1122.8 479.9,1118.1C482.7,1113.4 485.5,1108.4 488.3,1104.8C491.0,1101.2 493.2,1099.0 496.6,1096.5C499.9,1094.0 504.3,1092.6 508.2,1089.8C512.1,1087.0 516.3,1082.3 519.9,1079.8C523.5,1077.3 526.0,1076.2 529.9,1074.8C533.7,1073.5 539.3,1073.5 543.2,1071.5C547.1,1069.6 549.8,1067.4 553.2,1063.2C556.5,1059.0 560.1,1051.8 563.1,1046.5C566.2,1041.3 568.4,1035.3 571.5,1031.6C574.5,1027.8 578.4,1025.3 581.5,1024.1C584.5,1022.8 587.0,1024.1 589.8,1024.1C592.6,1024.1 595.6,1025.0 598.1,1024.1C600.6,1023.1 602.5,1021.7 604.8,1018.3C607.0,1014.8 609.2,1009.1 611.4,1003.3C613.6,997.4 616.1,988.8 618.1,983.3C620.0,977.8 621.6,974.2 623.1,970.0C624.5,965.8 624.9,961.1 626.6,958.1C628.3,955.2 630.8,953.2 633.3,952.3C635.8,951.3 638.8,952.8 641.6,952.3C644.4,951.7 647.4,951.0 649.9,948.9C652.4,946.9 654.3,944.1 656.6,939.8C658.8,935.5 661.0,929.3 663.2,923.1C665.4,917.0 667.7,909.8 669.9,903.2C672.1,896.5 674.3,888.8 676.5,883.2C678.8,877.7 680.4,873.1 683.2,869.9C686.0,866.7 689.8,865.7 693.2,864.1C696.5,862.4 699.8,862.3 703.2,859.9C706.5,857.5 710.1,853.0 713.1,849.9C716.2,846.9 718.8,843.5 721.5,841.6C724.1,839.7 726.5,838.0 729.0,838.3C731.5,838.5 733.5,841.0 736.5,843.3C739.4,845.5 743.1,848.8 746.4,851.6C749.8,854.4 753.1,856.9 756.4,859.9C759.8,863.0 763.1,866.0 766.4,869.9C769.7,873.8 773.1,879.0 776.4,883.2C779.7,887.4 783.1,892.1 786.4,894.9C789.7,897.6 792.4,898.5 796.4,899.8C800.3,901.2 806.1,901.2 810.0,903.2C813.9,905.1 816.9,907.9 820.0,911.5C823.0,915.1 825.8,920.1 828.3,924.8C830.8,929.5 832.7,934.0 835.0,939.8C837.2,945.6 839.4,953.1 841.6,959.8C843.8,966.4 846.0,973.6 848.3,979.7C850.5,985.9 852.6,991.3 855.1,996.6C857.6,1001.9 860.6,1008.4 863.4,1011.6C866.2,1014.8 868.7,1015.1 871.7,1015.8C874.8,1016.5 878.7,1015.1 881.7,1015.8C884.8,1016.5 887.3,1017.0 890.0,1019.9C892.8,1022.8 895.6,1028.5 898.4,1033.2C901.1,1037.9 904.1,1044.3 906.7,1048.2C909.3,1052.1 911.1,1054.0 914.0,1056.5C916.9,1059.0 920.7,1061.7 924.0,1063.2C927.3,1064.7 930.6,1065.0 934.0,1065.7C937.3,1066.4 940.4,1065.8 944.0,1067.4C947.6,1068.9 951.7,1072.5 955.6,1074.8C959.5,1077.2 963.7,1080.0 967.3,1081.5C970.9,1083.0 973.6,1083.6 977.2,1084.0C980.9,1084.4 985.6,1083.3 988.9,1084.0C992.2,1084.7 994.4,1086.1 997.2,1088.2C1000.0,1090.2 1002.8,1093.4 1005.5,1096.5C1008.3,1099.5 1010.8,1103.4 1013.9,1106.5C1016.9,1109.5 1020.5,1112.8 1023.8,1114.8C1027.2,1116.7 1030.5,1118.1 1033.8,1118.1C1037.2,1118.1 1039.9,1116.5 1043.8,1114.8C1047.7,1113.1 1052.7,1110.2 1057.1,1108.1C1061.6,1106.0 1066.6,1103.4 1070.5,1102.3C1074.3,1101.2 1077.7,1101.2 1080.4,1101.5C1083.2,1101.7 1084.3,1101.2 1087.1,1104.0C1089.9,1106.7 1093.8,1113.0 1097.1,1118.1C1100.4,1123.2 1103.7,1129.8 1107.1,1134.8C1110.4,1139.8 1113.7,1145.4 1117.1,1148.1C1120.4,1150.8 1122.9,1151.1 1127.0,1151.1C1131.1,1151.1 1137.6,1149.8 1141.7,1148.2C1145.8,1146.6 1148.6,1143.7 1151.6,1141.5C1154.7,1139.3 1156.9,1137.1 1160.0,1134.9C1163.0,1132.6 1166.9,1128.8 1169.9,1128.2C1173.0,1127.6 1175.5,1129.0 1178.3,1131.5C1181.0,1134.0 1183.5,1139.3 1186.6,1143.2C1189.6,1147.1 1193.0,1151.8 1196.6,1154.8C1200.2,1157.9 1204.1,1160.2 1208.2,1161.5C1212.4,1162.7 1217.1,1162.9 1221.5,1162.3C1226.0,1161.8 1230.7,1160.2 1234.9,1158.2C1239.0,1156.1 1242.3,1152.9 1246.5,1149.8C1250.7,1146.8 1255.9,1142.3 1259.8,1139.8C1263.7,1137.4 1266.8,1135.1 1269.8,1134.9C1272.9,1134.6 1275.1,1136.2 1278.1,1138.2C1281.2,1140.1 1285.1,1144.3 1288.1,1146.5C1291.2,1148.7 1293.4,1150.0 1296.4,1151.5C1299.5,1153.0 1303.1,1154.6 1306.4,1155.7C1309.8,1156.8 1312.5,1158.6 1316.4,1158.2C1320.3,1157.7 1325.3,1155.1 1329.7,1153.2C1334.2,1151.2 1338.9,1147.9 1343.0,1146.5C1347.2,1145.1 1350.2,1146.0 1354.7,1144.8C1359.2,1143.7 1365.3,1141.2 1370.1,1139.8C1374.9,1138.5 1379.3,1136.2 1383.4,1136.5C1387.6,1136.8 1391.5,1139.6 1395.1,1141.5C1398.7,1143.5 1401.7,1147.3 1405.1,1148.2C1408.4,1149.0 1412.1,1147.3 1415.1,1146.5C1418.0,1145.7 1421.7,1143.7 1423.0,1143.2"/>
<path stroke="#e78c8c" stroke-width="7.2" d="M207.5,1148.2C210.4,1147.8 219.3,1146.1 225.0,1145.7C230.7,1145.3 236.6,1145.3 241.6,1145.7C246.6,1146.1 250.8,1147.2 254.9,1148.2C259.1,1149.1 263.0,1150.7 266.6,1151.5C270.2,1152.3 273.2,1153.2 276.6,1153.2C279.9,1153.2 282.7,1152.3 286.5,1151.5C290.4,1150.7 295.4,1149.8 299.9,1148.2C304.3,1146.5 308.2,1143.9 313.2,1141.5C318.2,1139.2 324.8,1134.0 329.8,1134.0C334.8,1134.0 339.3,1139.4 343.1,1141.5C347.0,1143.6 349.8,1146.5 353.1,1146.5C356.5,1146.5 359.5,1143.2 363.1,1141.5C366.7,1139.8 370.9,1136.7 374.8,1136.5C378.6,1136.4 382.2,1138.9 386.4,1140.7C390.6,1142.5 396.1,1146.6 399.7,1147.3C403.3,1148.0 404.7,1146.6 408.0,1144.8C411.4,1143.0 415.8,1139.0 419.7,1136.5C423.6,1134.0 428.0,1130.2 431.3,1129.9C434.7,1129.6 436.9,1132.3 440.0,1134.8C443.1,1137.2 446.6,1142.0 450.0,1144.7C453.3,1147.5 456.6,1150.8 460.0,1151.4C463.3,1152.0 466.6,1150.6 469.9,1148.1C473.3,1145.6 476.6,1140.9 479.9,1136.4C483.3,1132.0 486.6,1125.1 489.9,1121.4C493.2,1117.8 496.9,1115.9 499.9,1114.8C503.0,1113.7 504.9,1114.0 508.2,1114.8C511.6,1115.6 515.7,1118.1 519.9,1119.8C524.0,1121.4 529.0,1123.7 533.2,1124.8C537.4,1125.9 541.2,1127.3 544.8,1126.4C548.4,1125.6 551.5,1123.1 554.8,1119.8C558.2,1116.5 561.5,1111.5 564.8,1106.5C568.1,1101.5 571.5,1094.1 574.8,1089.8C578.1,1085.5 581.5,1081.9 584.8,1080.7C588.1,1079.4 591.4,1081.5 594.8,1082.3C598.1,1083.2 601.7,1086.1 604.8,1085.7C607.8,1085.2 610.3,1083.6 613.1,1079.8C615.9,1076.1 618.6,1068.7 621.4,1063.2C624.2,1057.6 627.0,1050.2 629.7,1046.5C632.5,1042.9 635.3,1041.6 638.0,1041.6C640.8,1041.6 643.3,1044.6 646.4,1046.5C649.4,1048.5 653.3,1053.2 656.4,1053.2C659.4,1053.2 662.2,1050.2 664.7,1046.5C667.2,1042.9 668.9,1036.4 671.4,1031.4C673.9,1026.4 676.9,1019.9 679.7,1016.4C682.5,1013.0 684.8,1012.4 688.3,1010.7C691.8,1009.0 697.3,1008.6 700.8,1006.5C704.3,1004.4 706.3,1001.5 709.1,998.2C711.9,994.9 715.0,989.7 717.4,986.6C719.8,983.5 721.4,981.6 723.2,979.9C725.0,978.2 726.5,977.0 728.2,976.6C729.9,976.2 731.5,977.0 733.2,977.8C734.9,978.6 736.5,979.6 738.2,981.6C739.9,983.6 741.5,986.3 743.2,989.9C744.9,993.5 746.3,999.1 748.2,1003.2C750.1,1007.4 752.3,1011.5 754.8,1014.8C757.3,1018.1 759.7,1021.0 763.2,1023.2C766.7,1025.4 771.5,1026.4 775.6,1028.1C779.8,1029.8 784.8,1031.1 788.1,1033.1C791.4,1035.1 792.3,1038.2 795.2,1039.9C798.0,1041.6 801.8,1043.4 805.1,1043.2C808.5,1043.1 811.8,1041.0 815.1,1039.1C818.5,1037.1 822.1,1033.2 825.1,1031.6C828.2,1029.9 830.7,1028.8 833.4,1029.1C836.2,1029.3 839.0,1030.3 841.8,1033.2C844.5,1036.1 847.3,1041.0 850.1,1046.5C852.9,1052.1 855.6,1060.7 858.4,1066.5C861.2,1072.3 864.0,1077.9 866.7,1081.5C869.5,1085.1 872.0,1087.7 875.1,1088.2C878.1,1088.6 881.7,1085.9 885.0,1084.0C888.4,1082.1 891.7,1077.8 895.0,1076.5C898.4,1075.3 901.9,1075.4 905.0,1076.5C908.2,1077.6 911.1,1079.6 914.0,1083.2C916.9,1086.8 919.5,1094.0 922.3,1098.1C925.1,1102.3 927.6,1105.9 930.6,1108.1C933.7,1110.3 937.3,1111.3 940.6,1111.5C944.0,1111.6 947.0,1109.8 950.6,1109.0C954.2,1108.1 958.4,1106.6 962.3,1106.5C966.2,1106.3 970.0,1107.3 973.9,1108.1C977.8,1109.0 981.7,1110.5 985.6,1111.5C989.5,1112.4 993.6,1113.8 997.2,1114.0C1000.8,1114.1 1004.2,1112.4 1007.2,1112.3C1010.3,1112.2 1012.8,1112.2 1015.5,1113.1C1018.3,1114.1 1020.8,1115.9 1023.8,1118.1C1026.9,1120.3 1030.5,1123.9 1033.8,1126.4C1037.2,1128.9 1040.5,1131.3 1043.8,1133.1C1047.1,1134.9 1051.0,1137.0 1053.8,1137.3C1056.6,1137.5 1058.0,1136.8 1060.5,1134.8C1063.0,1132.7 1066.0,1128.4 1068.8,1124.8C1071.6,1121.2 1074.3,1115.9 1077.1,1113.1C1079.9,1110.3 1082.7,1108.1 1085.4,1108.1C1088.2,1108.1 1091.0,1110.3 1093.8,1113.1C1096.5,1115.9 1099.3,1121.2 1102.1,1124.8C1104.8,1128.4 1107.9,1132.0 1110.4,1134.8C1112.9,1137.5 1114.8,1139.8 1117.1,1141.4C1119.3,1143.1 1121.6,1143.9 1123.7,1144.7C1125.9,1145.6 1127.3,1146.5 1130.0,1146.5C1132.7,1146.5 1136.9,1145.4 1140.0,1144.8C1143.0,1144.3 1145.0,1144.3 1148.3,1143.2C1151.6,1142.1 1156.1,1140.1 1160.0,1138.2C1163.8,1136.2 1167.7,1132.9 1171.6,1131.5C1175.5,1130.1 1179.7,1129.0 1183.3,1129.9C1186.9,1130.7 1190.2,1133.7 1193.2,1136.5C1196.3,1139.3 1199.1,1143.6 1201.6,1146.5C1204.1,1149.4 1204.6,1152.8 1208.2,1154.0C1211.8,1155.2 1218.5,1153.3 1223.2,1153.5C1227.9,1153.7 1232.1,1154.2 1236.5,1155.0C1241.0,1155.8 1245.7,1157.9 1249.8,1158.3C1254.0,1158.7 1257.6,1159.6 1261.5,1157.3C1265.4,1155.1 1269.5,1148.6 1273.1,1144.8C1276.7,1141.1 1279.8,1137.2 1283.1,1134.9C1286.5,1132.5 1289.5,1131.4 1293.1,1130.7C1296.7,1130.0 1300.9,1130.3 1304.8,1130.7C1308.6,1131.1 1312.8,1131.9 1316.4,1133.2C1320.0,1134.4 1323.3,1136.0 1326.4,1138.2C1329.4,1140.4 1331.9,1144.0 1334.7,1146.5C1337.5,1149.0 1340.0,1151.8 1343.0,1153.2C1346.1,1154.6 1349.7,1155.4 1353.0,1154.8C1356.4,1154.3 1359.6,1151.5 1363.0,1149.8C1366.4,1148.2 1370.0,1145.0 1373.4,1144.8C1376.8,1144.7 1380.1,1146.6 1383.4,1149.0C1386.8,1151.4 1390.1,1156.9 1393.4,1159.0C1396.7,1161.1 1398.5,1161.2 1403.4,1161.5C1408.3,1161.8 1419.8,1160.8 1423.0,1160.7"/>
<path stroke="#ca373a" stroke-width="7.2" d="M207.5,1155.7C209.0,1155.9 213.2,1156.5 216.6,1157.3C220.1,1158.2 224.4,1160.0 228.3,1160.7C232.2,1161.3 235.8,1162.0 239.9,1161.5C244.1,1160.9 249.4,1158.7 253.3,1157.3C257.1,1155.9 259.6,1153.7 263.2,1153.2C266.9,1152.6 271.0,1153.3 274.9,1154.0C278.8,1154.7 282.4,1156.5 286.5,1157.3C290.7,1158.2 294.9,1158.7 299.9,1159.0C304.9,1159.3 311.5,1159.3 316.5,1159.0C321.5,1158.7 325.4,1158.2 329.8,1157.3C334.3,1156.5 338.4,1154.7 343.1,1154.0C347.9,1153.3 352.8,1153.2 358.1,1153.2C363.4,1153.2 369.8,1153.6 374.8,1154.0C379.8,1154.4 383.9,1155.7 388.1,1155.7C392.2,1155.7 395.8,1155.1 399.7,1154.0C403.6,1152.9 408.0,1150.3 411.4,1149.0C414.7,1147.8 416.6,1146.2 419.7,1146.5C422.7,1146.8 426.3,1149.3 429.7,1150.7C433.1,1152.0 436.3,1153.4 440.0,1154.7C443.6,1156.1 447.8,1158.1 451.6,1158.9C455.5,1159.7 459.4,1160.1 463.3,1159.7C467.2,1159.3 471.1,1157.5 474.9,1156.4C478.8,1155.3 483.0,1153.5 486.6,1153.1C490.2,1152.7 493.0,1153.5 496.6,1153.9C500.2,1154.3 504.3,1155.7 508.2,1155.6C512.1,1155.4 515.7,1154.0 519.9,1153.1C524.0,1152.1 529.0,1150.2 533.2,1149.7C537.4,1149.3 541.0,1149.5 544.8,1150.6C548.7,1151.7 552.6,1154.9 556.5,1156.4C560.4,1157.9 564.5,1159.3 568.1,1159.7C571.7,1160.1 575.1,1160.3 578.1,1158.9C581.2,1157.5 583.4,1154.0 586.5,1151.4C589.5,1148.8 593.1,1145.0 596.4,1143.1C599.8,1141.1 603.1,1139.9 606.4,1139.8C609.8,1139.6 613.1,1140.3 616.4,1142.2C619.7,1144.2 623.1,1148.6 626.4,1151.4C629.7,1154.2 633.1,1157.4 636.4,1158.9C639.7,1160.4 642.5,1160.6 646.4,1160.6C650.3,1160.6 655.4,1159.6 659.7,1158.9C664.0,1158.2 667.7,1159.0 672.0,1156.4C676.3,1153.8 680.9,1147.2 685.3,1143.1C689.8,1138.9 694.2,1134.5 698.6,1131.4C703.1,1128.4 708.1,1126.0 711.9,1124.8C715.8,1123.5 718.6,1123.5 721.9,1123.9C725.3,1124.4 728.3,1125.7 731.9,1127.3C735.5,1128.8 739.7,1131.6 743.6,1133.1C747.5,1134.6 751.1,1135.6 755.2,1136.4C759.4,1137.2 763.5,1137.8 768.5,1137.8C773.5,1137.8 779.6,1137.2 785.2,1136.4C790.7,1135.6 796.8,1134.3 801.8,1133.1C806.8,1131.8 810.7,1130.5 815.1,1128.9C819.6,1127.4 824.0,1125.1 828.5,1123.9C832.9,1122.8 837.3,1122.4 841.8,1122.3C846.2,1122.1 850.6,1122.6 855.1,1123.1C859.5,1123.7 864.2,1124.2 868.4,1125.6C872.6,1127.0 876.2,1129.1 880.0,1131.4C883.9,1133.8 887.5,1137.0 891.7,1139.8C895.9,1142.5 901.3,1145.9 905.0,1148.1C908.7,1150.3 910.8,1152.1 914.0,1153.1C917.2,1154.0 920.7,1154.0 924.0,1153.9C927.3,1153.8 930.6,1153.5 934.0,1152.2C937.3,1151.0 940.6,1149.0 944.0,1146.4C947.3,1143.8 950.6,1139.8 953.9,1136.4C957.3,1133.1 960.9,1128.9 963.9,1126.4C967.0,1123.9 969.5,1122.3 972.3,1121.4C975.0,1120.6 977.8,1120.6 980.6,1121.4C983.3,1122.3 986.1,1124.2 988.9,1126.4C991.7,1128.7 994.2,1132.3 997.2,1134.8C1000.3,1137.3 1003.9,1140.2 1007.2,1141.4C1010.5,1142.7 1013.9,1142.4 1017.2,1142.2C1020.5,1142.1 1023.8,1140.9 1027.2,1140.6C1030.5,1140.3 1033.8,1139.9 1037.2,1140.6C1040.5,1141.3 1043.8,1142.9 1047.1,1144.7C1050.5,1146.5 1053.8,1149.6 1057.1,1151.4C1060.5,1153.2 1063.8,1154.7 1067.1,1155.6C1070.5,1156.4 1073.8,1156.5 1077.1,1156.4C1080.4,1156.3 1083.8,1155.3 1087.1,1154.7C1090.4,1154.2 1093.8,1153.9 1097.1,1153.1C1100.4,1152.2 1103.7,1151.1 1107.1,1149.7C1110.4,1148.4 1113.7,1146.4 1117.1,1144.7C1120.4,1143.1 1124.9,1140.8 1127.0,1139.8C1129.2,1138.7 1127.8,1138.9 1130.0,1138.2C1132.2,1137.5 1136.9,1135.7 1140.0,1135.7C1143.0,1135.7 1145.5,1136.4 1148.3,1138.2C1151.1,1140.0 1153.9,1143.7 1156.6,1146.5C1159.4,1149.3 1161.9,1152.6 1165.0,1154.8C1168.0,1157.0 1171.3,1159.0 1174.9,1159.8C1178.5,1160.7 1182.7,1160.2 1186.6,1159.8C1190.5,1159.4 1194.4,1158.3 1198.2,1157.3C1202.1,1156.4 1205.7,1154.7 1209.9,1154.0C1214.1,1153.3 1218.8,1153.0 1223.2,1153.2C1227.6,1153.3 1232.1,1154.0 1236.5,1154.8C1241.0,1155.7 1245.4,1157.3 1249.8,1158.2C1254.3,1159.0 1258.7,1159.5 1263.1,1159.8C1267.6,1160.1 1272.3,1160.2 1276.5,1159.8C1280.6,1159.4 1284.2,1157.7 1288.1,1157.3C1292.0,1156.9 1296.2,1156.9 1299.8,1157.3C1303.4,1157.7 1307.3,1159.1 1309.8,1159.8C1312.2,1160.6 1312.5,1160.8 1314.7,1161.8C1317.0,1162.8 1319.2,1164.3 1323.1,1165.6C1327.0,1167.0 1328.8,1169.1 1338.0,1169.8C1347.3,1170.5 1364.3,1169.8 1378.4,1169.8C1392.6,1169.8 1415.6,1169.8 1423.0,1169.8"/>
</g>
<g class="bs" font-size="45px">
<text x="716" y="333.5" textLength="195" lengthAdjust="spacingAndGlyphs">Phenazine</text>
<text x="687.5" y="818.8" textLength="49" lengthAdjust="spacingAndGlyphs">5b</text>
<text x="696.5" y="933.3" textLength="41" lengthAdjust="spacingAndGlyphs">5a</text>
<text x="693.5" y="991" textLength="46" lengthAdjust="spacingAndGlyphs">5d</text>
<text x="693.5" y="1043.2" textLength="42.5" lengthAdjust="spacingAndGlyphs">5e</text>
<text x="695" y="1100.6" textLength="41.5" lengthAdjust="spacingAndGlyphs">5c</text>
<text x="709" y="1155.2" textLength="22" lengthAdjust="spacingAndGlyphs">3</text>
</g>
<g class="bs">
<text font-size="48px" x="620.8" y="1291.5" textLength="255" lengthAdjust="spacingAndGlyphs">Wavelength</text>
<text font-size="48px" x="897" y="1291.5" textLength="112" lengthAdjust="spacingAndGlyphs">(nm)</text>
<g transform="translate(76.5,968) rotate(-90) scale(1,1.05)"><text font-size="51px" x="0" y="0" textLength="373" lengthAdjust="spacingAndGlyphs">Phosphorescence</text><text font-size="51px" x="392" y="0" textLength="199.5" lengthAdjust="spacingAndGlyphs">Intensity</text><text font-size="51px" x="603" y="0" textLength="119" lengthAdjust="spacingAndGlyphs">(a.u.)</text></g>
</g>
</svg></body></html>
